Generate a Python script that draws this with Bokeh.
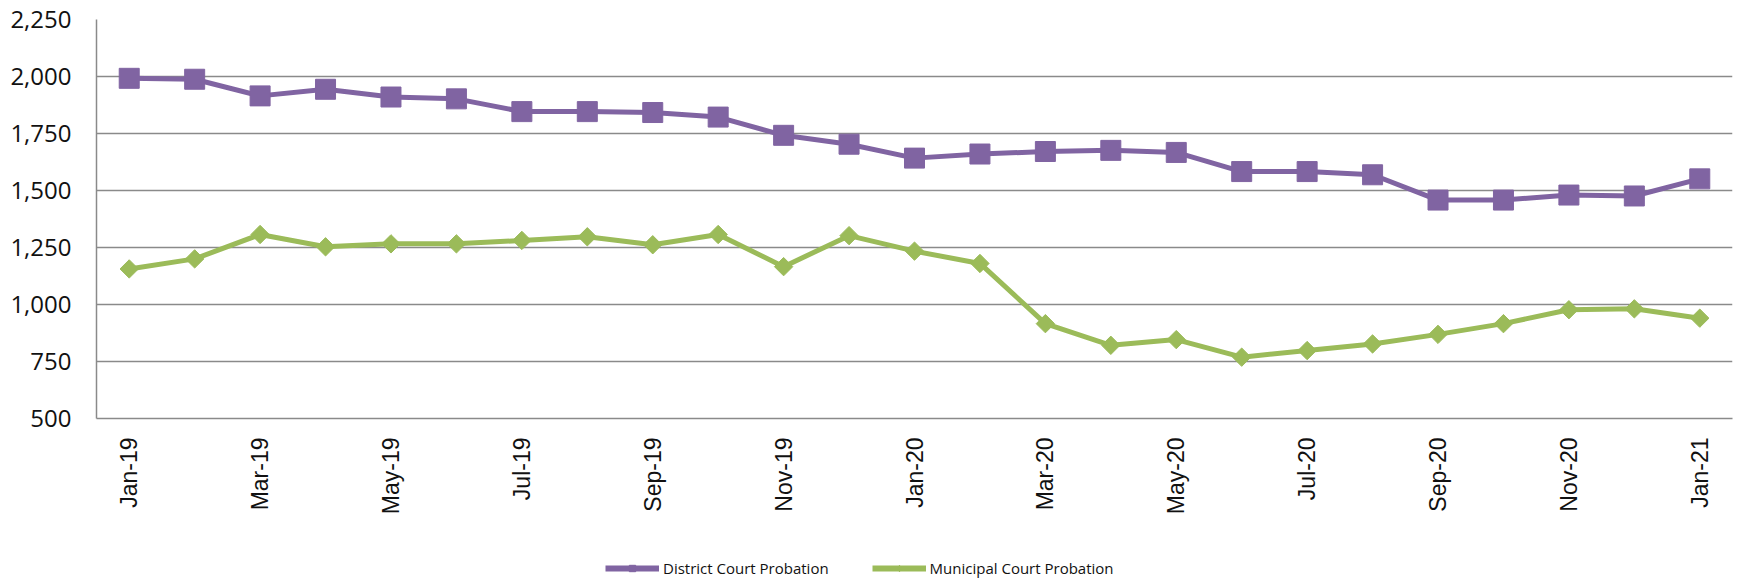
from math import pi
from bokeh.plotting import figure
from bokeh.layouts import column
from bokeh.models import (Range1d, FixedTicker, NumeralTickFormatter, Legend, LegendItem,
                          ColumnDataSource)
from bokeh.embed import file_html
from bokeh.resources import INLINE

months = ["Jan-19", "Feb-19", "Mar-19", "Apr-19", "May-19", "Jun-19", "Jul-19", "Aug-19",
          "Sep-19", "Oct-19", "Nov-19", "Dec-19", "Jan-20", "Feb-20", "Mar-20", "Apr-20",
          "May-20", "Jun-20", "Jul-20", "Aug-20", "Sep-20", "Oct-20", "Nov-20", "Dec-20",
          "Jan-21"]
district = [1992, 1988, 1915, 1944, 1910, 1902, 1846, 1846, 1842, 1822, 1742, 1703, 1642,
            1660, 1671, 1676, 1667, 1583, 1583, 1569, 1458, 1458, 1480, 1476, 1551]
municipal = [1156, 1200, 1307, 1253, 1266, 1266, 1281, 1297, 1262, 1307, 1166, 1302, 1234,
             1180, 916, 821, 846, 769, 798, 827, 869, 916, 977, 981, 940]
y_ticks = [500, 750, 1000, 1250, 1500, 1750, 2000, 2250]

PURPLE = "#8064A2"
GREEN = "#9BBB59"
GRID = "#8a8a8a"

xs = list(range(len(months)))
src = ColumnDataSource(dict(x=xs, district=district, municipal=municipal))

p = figure(width=1737, height=560, output_backend="svg", toolbar_location=None,
           x_range=Range1d(-0.5, len(months) - 0.5),
           y_range=Range1d(y_ticks[0], y_ticks[-1]),
           min_border_left=96, min_border_right=5, min_border_top=19, min_border_bottom=142)
p.outline_line_color = None
p.background_fill_color = "white"
p.border_fill_color = "white"

# grid
p.xgrid.grid_line_color = None
p.ygrid.grid_line_color = GRID
p.ygrid.grid_line_width = 1.5
p.ygrid.ticker = FixedTicker(ticks=y_ticks)

# y axis
p.yaxis.ticker = FixedTicker(ticks=y_ticks)
p.yaxis.formatter = NumeralTickFormatter(format="0,0")
p.yaxis.axis_line_color = GRID
p.yaxis.axis_line_width = 1.5
p.yaxis.major_tick_line_color = None
p.yaxis.minor_tick_line_color = None
p.yaxis.major_tick_out = 0
p.yaxis.major_label_standoff = 25
p.yaxis.major_label_text_font = "Open Sans"
p.yaxis.major_label_text_font_size = "24px"
p.yaxis.major_label_text_color = "#111111"

# x axis
p.xaxis.ticker = FixedTicker(ticks=xs[::2])
p.xaxis.major_label_overrides = {i: months[i] for i in xs}
p.xaxis.major_label_orientation = pi / 2
p.xaxis.axis_line_color = GRID
p.xaxis.axis_line_width = 1.5
p.xaxis.major_tick_line_color = None
p.xaxis.minor_tick_line_color = None
p.xaxis.major_tick_out = 0
p.xaxis.major_label_standoff = 19
p.xaxis.major_label_text_font = "Liberation Sans"
p.xaxis.major_label_text_font_size = "23px"
p.xaxis.major_label_text_color = "#111111"

# series
p.line("x", "district", source=src, line_color=PURPLE, line_width=5)
p.scatter("x", "district", source=src, marker="square", size=20, fill_color=PURPLE,
          line_color=PURPLE)
p.line("x", "municipal", source=src, line_color=GREEN, line_width=5)
p.scatter("x", "municipal", source=src, marker="square", angle=pi / 4, size=13,
          fill_color=GREEN, line_color=GREEN)

# legend strip below the chart (its ranges keep the series out of view;
# its renderers only supply the legend glyphs)
lg = figure(width=1737, height=20, output_backend="svg", toolbar_location=None,
            x_range=Range1d(0, 1), y_range=Range1d(0, 1),
            x_axis_location=None, y_axis_location=None,
            min_border_left=0, min_border_right=0, min_border_top=0, min_border_bottom=0)
lg.grid.visible = False
lg.outline_line_color = None
lg.border_fill_color = "white"
lg.background_fill_color = "white"

d_line = lg.line("x", "district", source=src, line_color=PURPLE, line_width=6)
d_mark = lg.scatter("x", "district", source=src, marker="square", size=8,
                    fill_color=PURPLE, line_color=PURPLE)
m_line = lg.line("x", "municipal", source=src, line_color=GREEN, line_width=6)
m_mark = lg.scatter("x", "municipal", source=src, marker="diamond", size=11,
                    fill_color=GREEN, line_color=GREEN)

legend = Legend(items=[
    LegendItem(label="District Court Probation", renderers=[d_line, d_mark]),
    LegendItem(label="Municipal Court Probation", renderers=[m_line, m_mark]),
], orientation="horizontal", location=(509, 2), glyph_width=54, glyph_height=16,
    label_standoff=4, spacing=43, padding=0, margin=0, border_line_color=None,
    background_fill_alpha=0, label_text_font="Open Sans", label_text_font_size="15px",
    label_text_color="#111111", label_height=16)
lg.add_layout(legend)

layout = column(p, lg, spacing=0)
open("out.html", "w").write(file_html(layout, INLINE))
